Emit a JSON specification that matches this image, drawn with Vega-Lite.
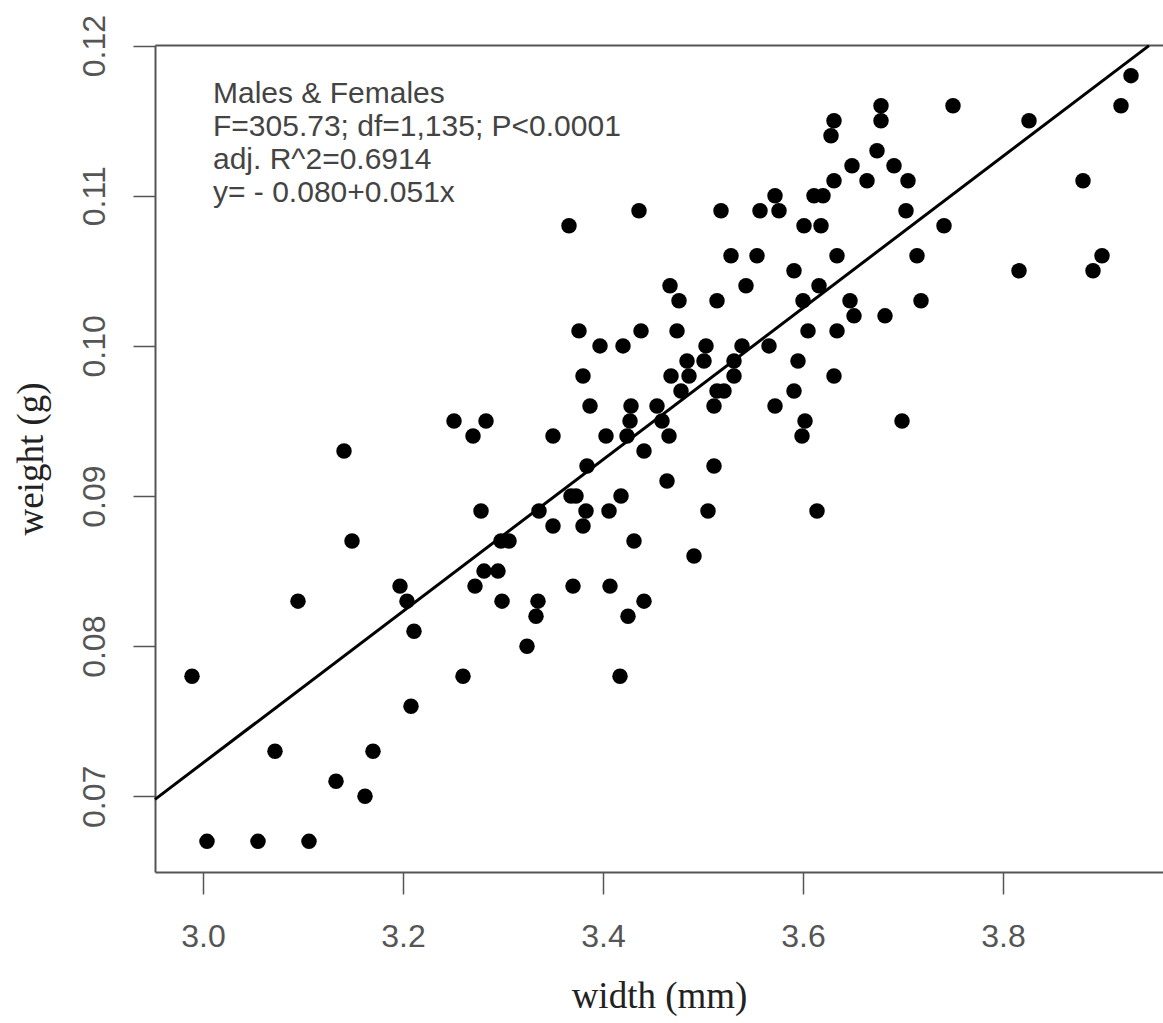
{
  "$schema": "https://vega.github.io/schema/vega-lite/v6.json",
  "width": 1008,
  "height": 827,
  "autosize": {"type": "none"},
  "padding": {"left": 155, "top": 45, "right": 0, "bottom": 151},
  "background": "white",
  "config": {
    "view": {"stroke": null},
    "axis": {
      "domainColor": "#555555",
      "domainWidth": 2,
      "tickColor": "#555555",
      "tickWidth": 1.5,
      "tickSize": 22,
      "labelFont": "Liberation Sans",
      "labelFontSize": 32,
      "labelColor": "#555555",
      "titleFont": "Liberation Serif",
      "titleFontSize": 37,
      "titleFontWeight": "normal",
      "titleColor": "#222222",
      "grid": false
    }
  },
  "datasets": {
    "points": [
      {"width": 3.251, "weight": 0.095}, {"width": 3.283, "weight": 0.095}, {"width": 3.270, "weight": 0.094},
      {"width": 3.141, "weight": 0.093}, {"width": 3.278, "weight": 0.089}, {"width": 3.149, "weight": 0.087},
      {"width": 3.281, "weight": 0.085}, {"width": 3.272, "weight": 0.084}, {"width": 3.197, "weight": 0.084},
      {"width": 3.204, "weight": 0.083}, {"width": 3.095, "weight": 0.083}, {"width": 3.211, "weight": 0.081},
      {"width": 2.989, "weight": 0.078}, {"width": 3.260, "weight": 0.078}, {"width": 3.208, "weight": 0.076},
      {"width": 3.072, "weight": 0.073}, {"width": 3.170, "weight": 0.073}, {"width": 3.133, "weight": 0.071},
      {"width": 3.162, "weight": 0.070}, {"width": 3.004, "weight": 0.067}, {"width": 3.055, "weight": 0.067},
      {"width": 3.106, "weight": 0.067},
      {"width": 3.436, "weight": 0.109}, {"width": 3.518, "weight": 0.109}, {"width": 3.366, "weight": 0.108},
      {"width": 3.528, "weight": 0.106}, {"width": 3.467, "weight": 0.104}, {"width": 3.476, "weight": 0.103},
      {"width": 3.514, "weight": 0.103}, {"width": 3.376, "weight": 0.101}, {"width": 3.438, "weight": 0.101},
      {"width": 3.474, "weight": 0.101}, {"width": 3.397, "weight": 0.100}, {"width": 3.420, "weight": 0.100},
      {"width": 3.503, "weight": 0.100}, {"width": 3.484, "weight": 0.099}, {"width": 3.501, "weight": 0.099},
      {"width": 3.380, "weight": 0.098}, {"width": 3.468, "weight": 0.098}, {"width": 3.486, "weight": 0.098},
      {"width": 3.478, "weight": 0.097}, {"width": 3.514, "weight": 0.097}, {"width": 3.521, "weight": 0.097},
      {"width": 3.387, "weight": 0.096}, {"width": 3.428, "weight": 0.096}, {"width": 3.454, "weight": 0.096},
      {"width": 3.511, "weight": 0.096}, {"width": 3.427, "weight": 0.095}, {"width": 3.459, "weight": 0.095},
      {"width": 3.350, "weight": 0.094}, {"width": 3.403, "weight": 0.094}, {"width": 3.424, "weight": 0.094},
      {"width": 3.466, "weight": 0.094}, {"width": 3.441, "weight": 0.093}, {"width": 3.384, "weight": 0.092},
      {"width": 3.511, "weight": 0.092}, {"width": 3.464, "weight": 0.091}, {"width": 3.368, "weight": 0.090},
      {"width": 3.373, "weight": 0.090}, {"width": 3.418, "weight": 0.090}, {"width": 3.336, "weight": 0.089},
      {"width": 3.383, "weight": 0.089}, {"width": 3.406, "weight": 0.089}, {"width": 3.505, "weight": 0.089},
      {"width": 3.350, "weight": 0.088}, {"width": 3.380, "weight": 0.088}, {"width": 3.298, "weight": 0.087},
      {"width": 3.306, "weight": 0.087}, {"width": 3.431, "weight": 0.087}, {"width": 3.491, "weight": 0.086},
      {"width": 3.295, "weight": 0.085}, {"width": 3.370, "weight": 0.084}, {"width": 3.407, "weight": 0.084},
      {"width": 3.299, "weight": 0.083}, {"width": 3.335, "weight": 0.083}, {"width": 3.333, "weight": 0.082},
      {"width": 3.441, "weight": 0.083}, {"width": 3.425, "weight": 0.082}, {"width": 3.324, "weight": 0.080},
      {"width": 3.417, "weight": 0.078},
      {"width": 3.678, "weight": 0.116}, {"width": 3.678, "weight": 0.115}, {"width": 3.750, "weight": 0.116},
      {"width": 3.631, "weight": 0.115}, {"width": 3.628, "weight": 0.114}, {"width": 3.674, "weight": 0.113},
      {"width": 3.649, "weight": 0.112}, {"width": 3.691, "weight": 0.112}, {"width": 3.631, "weight": 0.111},
      {"width": 3.664, "weight": 0.111}, {"width": 3.705, "weight": 0.111}, {"width": 3.572, "weight": 0.110},
      {"width": 3.611, "weight": 0.110}, {"width": 3.620, "weight": 0.110}, {"width": 3.557, "weight": 0.109},
      {"width": 3.576, "weight": 0.109}, {"width": 3.703, "weight": 0.109}, {"width": 3.601, "weight": 0.108},
      {"width": 3.618, "weight": 0.108}, {"width": 3.741, "weight": 0.108}, {"width": 3.554, "weight": 0.106},
      {"width": 3.634, "weight": 0.106}, {"width": 3.714, "weight": 0.106}, {"width": 3.591, "weight": 0.105},
      {"width": 3.543, "weight": 0.104}, {"width": 3.616, "weight": 0.104}, {"width": 3.600, "weight": 0.103},
      {"width": 3.647, "weight": 0.103}, {"width": 3.651, "weight": 0.102}, {"width": 3.682, "weight": 0.102},
      {"width": 3.718, "weight": 0.103}, {"width": 3.605, "weight": 0.101}, {"width": 3.634, "weight": 0.101},
      {"width": 3.539, "weight": 0.100}, {"width": 3.566, "weight": 0.100}, {"width": 3.531, "weight": 0.099},
      {"width": 3.595, "weight": 0.099}, {"width": 3.531, "weight": 0.098}, {"width": 3.631, "weight": 0.098},
      {"width": 3.591, "weight": 0.097}, {"width": 3.572, "weight": 0.096}, {"width": 3.602, "weight": 0.095},
      {"width": 3.599, "weight": 0.094}, {"width": 3.699, "weight": 0.095}, {"width": 3.614, "weight": 0.089},
      {"width": 3.928, "weight": 0.118}, {"width": 3.918, "weight": 0.116}, {"width": 3.826, "weight": 0.115},
      {"width": 3.880, "weight": 0.111}, {"width": 3.899, "weight": 0.106}, {"width": 3.890, "weight": 0.105},
      {"width": 3.816, "weight": 0.105}
    ],
    "fit": [
      {"width": 2.952, "weight": 0.0698},
      {"width": 3.946, "weight": 0.1200}
    ],
    "note": [
      {"label": "note"}
    ]
  },
  "layer": [
    {
      "data": {"name": "points"},
      "mark": {"type": "circle", "size": 240, "color": "black", "opacity": 1},
      "encoding": {
        "x": {
          "field": "width", "type": "quantitative",
          "scale": {"domain": [2.952, 3.96], "nice": false, "zero": false},
          "axis": {
            "orient": "bottom", "values": [3.0, 3.2, 3.4, 3.6, 3.8], "format": ".1f",
            "labelPadding": 27, "title": "width (mm)", "titlePadding": 26
          }
        },
        "y": {
          "field": "weight", "type": "quantitative",
          "scale": {"domain": [0.06496, 0.12004], "nice": false, "zero": false},
          "axis": {
            "orient": "left", "values": [0.07, 0.08, 0.09, 0.1, 0.11, 0.12], "format": ".2f",
            "labelAngle": 270, "labelAlign": "center", "labelBaseline": "bottom",
            "labelPadding": 22, "title": "weight (g)", "titlePadding": 28
          }
        }
      }
    },
    {
      "data": {"name": "fit"},
      "mark": {"type": "line", "color": "black", "strokeWidth": 3},
      "encoding": {
        "x": {
          "field": "width", "type": "quantitative",
          "scale": {"domain": [2.952, 3.96], "nice": false, "zero": false},
          "axis": {"orient": "top", "labels": false, "ticks": false, "title": null, "domain": true}
        },
        "y": {
          "field": "weight", "type": "quantitative",
          "scale": {"domain": [0.06496, 0.12004], "nice": false, "zero": false},
          "axis": null
        }
      }
    },
    {
      "data": {"name": "note"},
      "mark": {
        "type": "text", "align": "left", "baseline": "top",
        "font": "Liberation Sans", "fontSize": 30, "lineHeight": 33, "color": "#444444"
      },
      "encoding": {
        "x": {"datum": 3.01, "type": "quantitative", "axis": null},
        "y": {"datum": 0.1178, "type": "quantitative", "axis": null},
        "text": {"value": ["Males & Females", "F=305.73; df=1,135; P<0.0001", "adj. R^2=0.6914", "y= - 0.080+0.051x"]}
      }
    }
  ],
  "resolve": {"axis": {"x": "independent", "y": "independent"}}
}
